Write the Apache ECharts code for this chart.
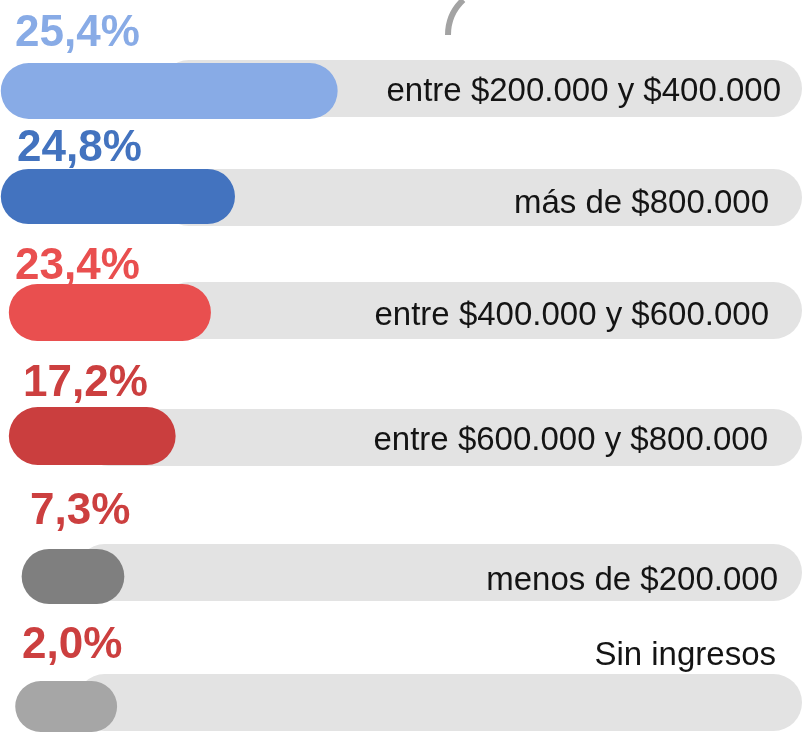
<!DOCTYPE html>
<html lang="es">
<head>
<meta charset="UTF-8">
<title>Ingresos del hogar</title>
<script src="https://cdn.jsdelivr.net/npm/echarts@6/dist/echarts.min.js"></script>
<style>
  html, body { margin: 0; padding: 0; background: #fff; }
  #chart { width: 802px; height: 732px; }
</style>
</head>
<body>
<div id="chart"></div>
<script>
// datos
var categories = ['entre $200.000 y $400.000', 'más de $800.000', 'entre $400.000 y $600.000',
                  'entre $600.000 y $800.000', 'menos de $200.000', 'Sin ingresos'];
var percents = [25.4, 24.8, 23.4, 17.2, 7.3, 2.0];
// largo de cada barra tal como se ve en la imagen (% del ancho), no es proporcional a percents
var barLength = [42.0, 29.2, 25.2, 20.8, 12.8, 12.7];

// estilos y posiciones por fila (px)
var barColors   = ['#88abe6', '#4373bf', '#e94f4f', '#ca3e3e', '#7f7f7f', '#a6a6a6'];
var labelColors = ['#88abe6', '#4373bf', '#e94f4f', '#cc3f3f', '#cc3f3f', '#cc3f3f'];
var barTop   = [63, 169, 284, 407, 549, 681];
var barH     = [56, 55, 57, 58, 55, 56];
var trackTop = [60, 169, 282, 409, 544, 674];
var trackH   = 57;
var barStart   = [0.1, 0.1, 1.1, 1.1, 2.7, 1.9];
var trackStart = [20, 20, 20, 10, 9.5, 9.5];
var pctX = [15, 17, 15, 23, 30, 22];
var pctY = [34, 149, 267, 384, 512, 646];
var catRight = [787, 775, 775, 774, 784, 782];
var catY = [92, 204, 316, 441, 581, 656];

var W = 802, trackRightPx = 808;

function fmt(v) { return v.toFixed(1).replace('.', ',') + '%'; }

var grids = [], xAxes = [], yAxes = [], series = [];
for (var i = 0; i < categories.length; i++) {
  var g = i * 2;
  grids.push({ left: 0, right: 0, top: barTop[i], height: barH[i] });
  grids.push({ left: 0, right: W - trackRightPx, top: trackTop[i], height: trackH });
  [g, g + 1].forEach(function (k) {
    xAxes.push({ type: 'value', gridIndex: k, min: 0, max: 100, show: false });
    yAxes.push({ type: 'category', gridIndex: k, data: [categories[i]], show: false });
  });

  // fondo gris
  series.push({
    type: 'bar', xAxisIndex: g + 1, yAxisIndex: g + 1, stack: 't' + i, silent: true,
    barWidth: trackH, data: [trackStart[i]], itemStyle: { color: 'transparent' }
  });
  series.push({
    type: 'bar', xAxisIndex: g + 1, yAxisIndex: g + 1, stack: 't' + i, silent: true,
    barWidth: trackH, data: [100 - trackStart[i]],
    itemStyle: { color: '#e3e3e3', borderRadius: trackH / 2 },
    label: {
      show: true, position: ['100%', '50%'], align: 'right', verticalAlign: 'middle',
      offset: [catRight[i] - trackRightPx, catY[i] - (trackTop[i] + trackH / 2)],
      formatter: categories[i], color: '#141414', fontSize: 33,
      fontFamily: 'Liberation Sans'
    }
  });

  // barra de color
  series.push({
    type: 'bar', xAxisIndex: g, yAxisIndex: g, stack: 'b' + i, silent: true,
    barWidth: barH[i], data: [barStart[i]], itemStyle: { color: 'transparent' }
  });
  series.push({
    type: 'bar', xAxisIndex: g, yAxisIndex: g, stack: 'b' + i, silent: true,
    barWidth: barH[i], data: [barLength[i]],
    itemStyle: { color: barColors[i], borderRadius: barH[i] / 2 },
    label: {
      show: true,
      position: [pctX[i] - barStart[i] / 100 * W, pctY[i] - barTop[i]],
      align: 'left', verticalAlign: 'middle',
      formatter: fmt(percents[i]), color: labelColors[i],
      fontSize: 44, fontWeight: 'bold', fontFamily: 'Liberation Sans'
    }
  });
}

var chart = echarts.init(document.getElementById('chart'));
chart.setOption({
  animation: false,
  backgroundColor: '#ffffff',
  grid: grids,
  xAxis: xAxes,
  yAxis: yAxes,
  series: series,
  graphic: [{
    type: 'arc',
    shape: { cx: 496, cy: 35, r: 48, startAngle: Math.PI, endAngle: Math.PI + 0.82 },
    style: { stroke: '#a3a3a3', lineWidth: 6, fill: null }
  }]
});
</script>
</body>
</html>
